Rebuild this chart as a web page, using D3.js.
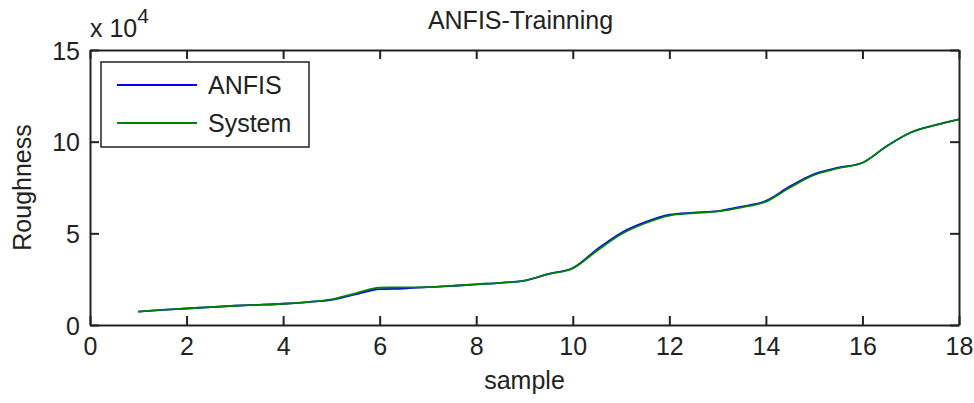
<!DOCTYPE html>
<html>
<head>
<meta charset="utf-8">
<script src="https://cdn.jsdelivr.net/npm/d3@7"></script>
<style>
  html, body { margin: 0; padding: 0; background: #fff; }
  svg { display: block; }
  text { font-family: "Liberation Sans", Arial, sans-serif; fill: #222; }
</style>
</head>
<body>
<svg id="chart" width="974" height="403"></svg>
<script>
// Sample positions (half-step readings along the training run)
const samples = [1, 1.5, 2, 2.5, 3, 3.5, 4, 4.5, 5, 5.5, 6, 6.5, 7, 7.5, 8, 8.5, 9, 9.5,
                 10, 10.5, 11, 11.5, 12, 12.5, 13, 13.5, 14, 14.5, 15, 15.5, 16, 16.5, 17, 17.5, 18];

// Measured roughness (units of 1e4)
const systemValues = [0.73, 0.82, 0.90, 0.98, 1.05, 1.10, 1.16, 1.25, 1.40, 1.73, 2.04, 2.05, 2.07, 2.13, 2.22, 2.30, 2.42, 2.78,
                      3.09, 4.05, 4.95, 5.55, 5.97, 6.10, 6.20, 6.42, 6.73, 7.50, 8.18, 8.55, 8.85, 9.75, 10.50, 10.90, 11.22];

// ANFIS output (units of 1e4)
const anfisValues  = [0.73, 0.82, 0.90, 0.98, 1.05, 1.10, 1.16, 1.25, 1.37, 1.67, 1.96, 1.99, 2.07, 2.13, 2.22, 2.30, 2.42, 2.79,
                      3.11, 4.12, 5.02, 5.61, 6.02, 6.13, 6.21, 6.46, 6.77, 7.56, 8.23, 8.58, 8.85, 9.75, 10.50, 10.90, 11.22];

const xTicks = [0, 2, 4, 6, 8, 10, 12, 14, 16, 18];
const yTicks = [0, 5, 10, 15];

const seriesNames = ["ANFIS", "System"];
const seriesColors = ["#0000ff", "#008000"];

const svg = d3.select("#chart");
const margin = { top: 50, right: 15, bottom: 78, left: 90 };
const W = 974, H = 403;
const iw = W - margin.left - margin.right;
const ih = H - margin.top - margin.bottom;

const x = d3.scaleLinear().domain([0, 18]).range([margin.left, margin.left + iw]);
const y = d3.scaleLinear().domain([0, 15]).range([margin.top + ih, margin.top]);

const axisColor = "#222";
const tickLen = 9;
const fontSize = 25;

// Data lines: ANFIS beneath, System on top
const line = (vals) => d3.line()
  .x((d, i) => x(samples[i]))
  .y(d => y(d))
  .curve(d3.curveMonotoneX)(vals);

const plot = svg.append("g");
plot.append("path").attr("d", line(anfisValues))
  .attr("fill", "none").attr("stroke", seriesColors[0]).attr("stroke-width", 1.8);
plot.append("path").attr("d", line(systemValues))
  .attr("fill", "none").attr("stroke", seriesColors[1]).attr("stroke-width", 1.8);

// Axes with inward ticks on all four sides
const axisBottomG = svg.append("g").attr("transform", `translate(0,${y(0)})`)
  .call(d3.axisBottom(x).tickValues(xTicks).tickSizeInner(-tickLen).tickSizeOuter(0).tickPadding(12).tickFormat(d3.format("d")));
const axisTopG = svg.append("g").attr("transform", `translate(0,${y(15)})`)
  .call(d3.axisTop(x).tickValues(xTicks).tickSizeInner(-tickLen).tickSizeOuter(0).tickFormat(""));
const axisLeftG = svg.append("g").attr("transform", `translate(${x(0)},0)`)
  .call(d3.axisLeft(y).tickValues(yTicks).tickSizeInner(-tickLen).tickSizeOuter(0).tickPadding(10).tickFormat(d3.format("d")));
const axisRightG = svg.append("g").attr("transform", `translate(${x(18)},0)`)
  .call(d3.axisRight(y).tickValues(yTicks).tickSizeInner(-tickLen).tickSizeOuter(0).tickFormat(""));

[axisBottomG, axisTopG, axisLeftG, axisRightG].forEach(g => {
  g.select(".domain").attr("stroke", axisColor).attr("stroke-width", 2);
  g.selectAll(".tick line").attr("stroke", axisColor).attr("stroke-width", 2);
  g.selectAll(".tick text").attr("font-size", fontSize).attr("fill", axisColor)
    .attr("font-family", '"Liberation Sans", Arial, sans-serif');
});
axisLeftG.selectAll(".tick text").attr("dy", "0.36em");

// Exponent label above the y axis
const expo = svg.append("text").attr("x", x(0)).attr("y", 37).attr("font-size", fontSize);
expo.append("tspan").text("x 10");
expo.append("tspan").attr("dy", -14).attr("font-size", 21).text("4");

// Title and axis labels
svg.append("text").attr("x", (x(0) + x(18)) / 2 - 4).attr("y", 29)
  .attr("text-anchor", "middle").attr("font-size", fontSize).text("ANFIS-Trainning");
svg.append("text").attr("x", (x(0) + x(18)) / 2).attr("y", 389)
  .attr("text-anchor", "middle").attr("font-size", fontSize).text("sample");
svg.append("text").attr("transform", `translate(31,${(y(0) + y(15)) / 2}) rotate(-90)`)
  .attr("text-anchor", "middle").attr("font-size", fontSize).text("Roughness");

// Legend
const lg = svg.append("g");
lg.append("rect").attr("x", 101).attr("y", 62).attr("width", 208).attr("height", 85)
  .attr("fill", "#fff").attr("stroke", axisColor).attr("stroke-width", 1.5);
seriesNames.forEach((name, i) => {
  const ly = 85 + i * 38;
  lg.append("line").attr("x1", 117).attr("x2", 197).attr("y1", ly).attr("y2", ly)
    .attr("stroke", seriesColors[i]).attr("stroke-width", 2);
  lg.append("text").attr("x", 208).attr("y", ly).attr("dy", "0.36em")
    .attr("font-size", fontSize).text(name);
});
</script>
</body>
</html>
